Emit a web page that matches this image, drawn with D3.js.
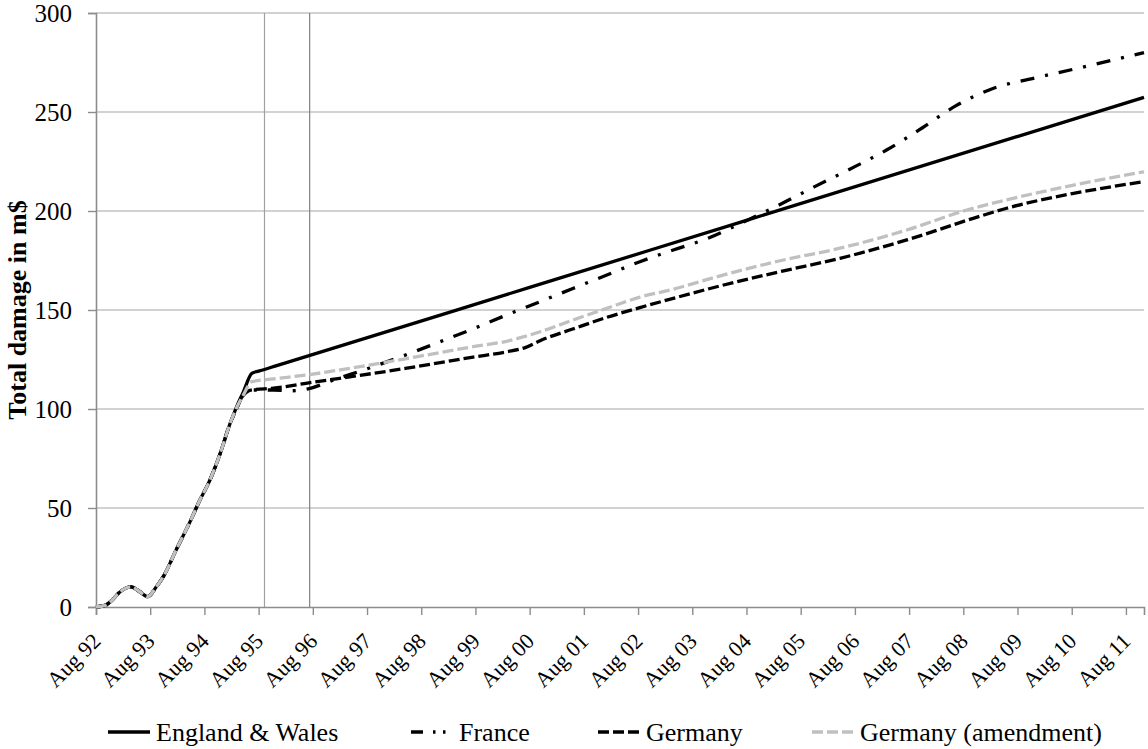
<!DOCTYPE html>
<html>
<head>
<meta charset="utf-8">
<script src="https://cdn.jsdelivr.net/npm/d3@7"></script>
<style>
  html, body { margin: 0; padding: 0; background: #fff; }
  svg { display: block; font-family: "Liberation Serif", "Times New Roman", serif; }
</style>
</head>
<body>
<svg id="chart" width="1148" height="749"></svg>
<script>
// Months counted from Aug 1992 (0 = Aug 92)
const tickMonths = [0,12,24,36,48,60,72,84,96,108,120,132,144,156,168,180,192,204,216,228];
const tickLabels = ["Aug 92","Aug 93","Aug 94","Aug 95","Aug 96","Aug 97","Aug 98","Aug 99","Aug 00","Aug 01",
                    "Aug 02","Aug 03","Aug 04","Aug 05","Aug 06","Aug 07","Aug 08","Aug 09","Aug 10","Aug 11"];
const yTicks = [0, 50, 100, 150, 200, 250, 300];
const markerMonths = [37.3, 47.3];

// common early path (all series identical)
const commonStart = [[0,0],[2,0.8],[4,4.5],[5,7],[7.75,10.2],[9.7,7.7],[11.4,5.2],[13.4,10.3],[14.9,15.3],
                     [17.9,29.6],[20.8,43],[23,54],[25.2,64],[27.5,77.6],[29.7,92.8]];

const englandWales = [[31.1,101],[32.6,108.5],[34.5,118],[36,119.1],[40,121.9],[96,161.4],[144,195.3],[232,257.4]];

const france = [[31.1,100],[32.3,106],[34.5,109.6],[39.3,109.6],[43,109.2],[47,110.2],[52.5,114.6],[61.4,121.4],
                [68.8,127.5],[76.2,134],[83.5,140.5],[90.9,147.5],[98.3,154.2],[105.7,161],[113.1,167.7],
                [120.4,174.4],[127.8,180.3],[135.2,186],[144.3,195.5],[150.3,202],[159.1,212.3],[166.5,220.7],
                [175,230.8],[182.8,241.8],[190.4,253.2],[198.7,262],[207.5,267],[216.4,271.6],
                [225.2,276.3],[232,280]];

const germany = [[31.1,100],[32.3,106],[34.5,109.6],[39.3,110.5],[47.4,113.3],[54,115.5],[61.4,118],[68.8,120.6],
                 [76.2,123.4],[83.5,126.2],[90.9,128.9],[95,131],[98.3,134.5],[105.7,140.5],[113.1,146.3],
                 [120.4,151.2],[127.8,155.9],[137,161.5],[151.7,169.5],[164.7,176.1],[179.5,185.4],[194.2,196.3],
                 [201.6,201.4],[216.4,208.9],[232,214.8]];

const germanyAmend = [[31.1,100.5],[32.6,107],[34.5,113.8],[39.3,115.2],[46.6,117.2],[54,119.7],[61.4,122.5],
                      [68.8,125.5],[76.2,128.5],[83.5,131.5],[90.9,134.2],[98.3,139],[105.7,145],[113.1,150.9],
                      [120.4,156.5],[127.8,160.5],[137,166.5],[151.7,175],[164.7,181.2],[179.5,190.4],[192.8,200.5],
                      [201.6,205.6],[216.4,213.1],[232,219.8]];

const seriesNames = ["England & Wales", "France", "Germany", "Germany (amendment)"];
const seriesData = [englandWales, france, germany, germanyAmend];

const styles = [
  {color: "#000", dash: null, legendDash: null},
  {color: "#000", dash: "14,11,3,11", legendDash: "12,10,2.5,7.5,2.5,8"},
  {color: "#000", dash: "11,4", legendDash: "11,4"},
  {color: "#c0c0c0", dash: "11,4", legendDash: "11,4"}
];

const serif = "'Liberation Serif', 'Times New Roman', serif";
const svg = d3.select("#chart");
const x = d3.scaleLinear().domain([0, 232]).range([96, 1144]);
const y = d3.scaleLinear().domain([0, 300]).range([607, 13]);

// gridlines
svg.append("g").selectAll("line").data(yTicks.filter(d => d > 0)).join("line")
  .attr("x1", x(0)).attr("x2", x(232)).attr("y1", d => y(d)).attr("y2", d => y(d))
  .attr("stroke", "#a6a6a6").attr("stroke-width", 1.2);

// vertical marker lines
svg.append("g").selectAll("line").data(markerMonths).join("line")
  .attr("x1", d => x(d)).attr("x2", d => x(d)).attr("y1", y(300)).attr("y2", y(0))
  .attr("stroke", (d, i) => i === 0 ? "#a0a0a0" : "#808080").attr("stroke-width", 1.2);

// y axis
const yAxis = d3.axisLeft(y).tickValues(yTicks).tickSize(8).tickPadding(16).tickFormat(d3.format("d"));
const gy = svg.append("g").attr("transform", `translate(${x(0)},0)`).call(yAxis);
gy.attr("font-family", null);
gy.select(".domain").attr("stroke", "#8c8c8c").attr("stroke-width", 1.6);
gy.selectAll(".tick line").attr("stroke", "#8c8c8c").attr("stroke-width", 1.4);
gy.selectAll(".tick text").attr("font-size", 25).attr("fill", "#000").style("font-family", serif);

// x axis
const xAxis = d3.axisBottom(x).tickValues(tickMonths).tickSize(8)
  .tickFormat((d, i) => tickLabels[i]);
const gx = svg.append("g").attr("transform", `translate(0,${y(0)})`).call(xAxis);
gx.attr("font-family", null);
gx.select(".domain").attr("stroke", "#8c8c8c").attr("stroke-width", 1.6);
gx.selectAll(".tick line").attr("stroke", "#8c8c8c").attr("stroke-width", 1.4);
gx.selectAll(".tick text")
  .attr("font-size", 22).attr("fill", "#000").style("font-family", serif)
  .attr("text-anchor", "end")
  .attr("y", 0).attr("dy", "0.35em")
  .attr("transform", "translate(0,30) rotate(-45)");

// y axis title
svg.append("text")
  .attr("transform", `translate(26,${(y(0) + y(300)) / 2}) rotate(-90)`)
  .attr("text-anchor", "middle")
  .attr("font-size", 26).attr("font-weight", "bold").attr("fill", "#000")
  .style("font-family", serif)
  .text("Total damage in m$");

// series lines
const line = d3.line().x(d => x(d[0])).y(d => y(d[1])).curve(d3.curveMonotoneX);
seriesData.forEach((data, i) => {
  const pts = commonStart.concat(data);
  svg.append("path")
    .datum(pts)
    .attr("d", line)
    .attr("fill", "none")
    .attr("stroke", styles[i].color)
    .attr("stroke-width", 3.3)
    .attr("stroke-linecap", "butt")
    .attr("stroke-linejoin", "round")
    .attr("stroke-dasharray", styles[i].dash);
});

// legend
const legendX = [108, 411, 598, 812];
const legendY = 732;
const lg = svg.append("g");
seriesNames.forEach((name, i) => {
  lg.append("line")
    .attr("x1", legendX[i]).attr("x2", legendX[i] + 42)
    .attr("y1", legendY).attr("y2", legendY)
    .attr("stroke", styles[i].color).attr("stroke-width", 3.3)
    .attr("stroke-dasharray", styles[i].legendDash);
  lg.append("text")
    .attr("x", legendX[i] + 48).attr("y", legendY).attr("dy", "0.33em")
    .attr("font-size", 26).attr("fill", "#000")
    .style("font-family", serif)
    .text(name);
});
</script>
</body>
</html>
